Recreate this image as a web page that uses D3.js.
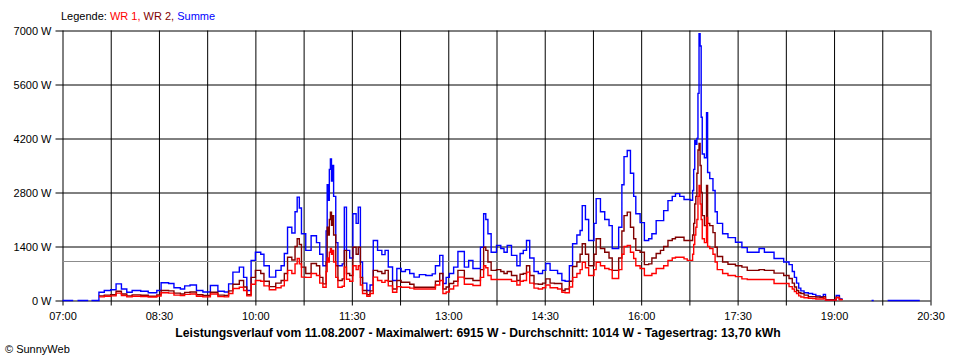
<!DOCTYPE html>
<html><head><meta charset="utf-8">
<script src="https://cdn.jsdelivr.net/npm/d3@7"></script>
<style>
body{margin:0;background:#fff;}
svg{display:block;font-family:"Liberation Sans",Arial,sans-serif;}
</style></head><body>
<svg id="c" width="960" height="360"></svg>
<script>
// ---- data ----
const times = ["07:00","07:10","07:11","07:14","07:24","07:25","07:27","07:33",
"07:34","07:39","07:45","07:50","07:55","08:00","08:05","08:13","08:20","08:28","08:32","08:39","08:44","08:50","08:54","08:59",
"09:05","09:11","09:18","09:25","09:31","09:35","09:39","09:45","09:49","09:52","09:56",
"10:00","10:05","10:08","10:13","10:19","10:24","10:27","10:30","10:34","10:37","10:39","10:41","10:43","10:47","10:52","10:57",
"11:00","11:03","11:06","11:07","11:08","11:09","11:10","11:11","11:12","11:13","11:15","11:17","11:21","11:23","11:25","11:28",
"11:31","11:34","11:36","11:38","11:40","11:44","11:47","11:50","11:54","11:58",
"12:01","12:04","12:08","12:12","12:16","12:20","12:24","12:28","12:33","12:39","12:45","12:48","12:52","12:55","12:58",
"13:01","13:05","13:09","13:13","13:15","13:19","13:23","13:27","13:30","13:33","13:35","13:37","13:40","13:45","13:49","13:52","13:55","13:59",
"14:04","14:07","14:10","14:13","14:16","14:20","14:24","14:28","14:31","14:35","14:39","14:42","14:46","14:49","14:53","14:56",
"15:00","15:03","15:05","15:08","15:11","15:14","15:16","15:18","15:22","15:26","15:30","15:33","15:36","15:39","15:42","15:44","15:47","15:50","15:53","15:55","15:59",
"16:03","16:07","16:10","16:14","16:18","16:21","16:25","16:29","16:32","16:36","16:40","16:43","16:46","16:48","16:49","16:50","16:51","16:52","16:53","16:54","16:55","16:56","16:57","16:59",
"17:01","17:02","17:04","17:07","17:09","17:11","17:16","17:21","17:28","17:34","17:39","17:50","17:55",
"18:04","18:13","18:18","18:21","18:23","18:25","18:27","18:29","18:32","18:36","18:40","18:43","18:47","18:50","18:52",
"19:02","19:05","19:08","19:09","19:35","19:37","19:38","19:50","20:20"];

const summe = [0,0,null,0,0,null,0,0,
215,260,280,430,300,215,260,240,200,260,460,440,330,300,380,400,
260,220,390,240,220,430,735,865,600,260,1040,
1250,1200,900,605,780,900,1220,1900,1750,2300,2680,2400,1730,1300,1680,1500,
1200,900,1800,3000,2600,3400,3670,3100,3500,2700,1500,900,950,2420,1300,1100,
2250,2000,2420,1000,450,260,400,1555,1300,1190,
1300,870,520,830,750,800,700,605,670,650,690,900,1170,440,600,
700,865,1270,1270,865,1040,830,830,1380,2250,2100,1730,1250,1430,1350,1250,1430,1170,
900,1220,1300,1555,1100,750,700,780,960,780,780,700,520,500,900,1470,
1700,1815,2460,2100,1555,1555,2000,2640,2300,2100,1940,1350,1350,1900,3000,3730,3890,3300,2700,2250,2020,
1555,1600,1730,2070,2070,2330,2590,2700,2770,2700,2620,2620,2600,2850,3400,4150,4050,4200,5370,6915,6600,4750,3800,3700,
4870,3320,3160,2850,2300,2000,1730,1630,1510,1370,1250,1350,1250,
1090,1000,930,750,600,450,320,250,200,180,160,120,100,160,20,
130,40,40,null,0,0,null,0,0];

const wr2 = [null,null,null,null,null,null,null,null,
120,140,150,240,170,120,145,135,110,145,260,250,190,170,210,220,
150,130,215,140,130,250,420,520,350,150,600,
780,700,500,360,450,520,700,1120,1050,1400,1600,1450,865,700,960,900,
600,430,1000,1900,1700,2100,2290,1950,2200,1700,900,520,560,1300,700,650,
1380,1200,1380,600,260,150,250,780,750,700,
780,500,300,520,475,475,420,345,345,345,345,500,700,300,350,
440,500,780,780,570,570,520,520,800,1380,1300,1000,780,800,750,700,750,650,
520,680,700,900,650,430,420,450,560,450,440,440,260,300,500,880,
1000,1200,1470,1200,900,900,1200,1600,1350,1250,1100,780,780,1100,1800,2200,2290,1900,1600,1300,1250,
930,950,1100,1220,1300,1400,1555,1600,1640,1640,1555,1555,1555,1700,2000,2500,2700,3300,3900,4070,3500,2800,2200,1940,
2980,2000,1940,1760,1380,1140,1000,940,900,865,780,800,780,
710,650,570,450,350,260,200,180,140,100,100,90,80,100,15,
85,30,30,null,null,null,null,null,null];

const wr1 = [null,null,null,null,null,null,null,null,
95,110,120,190,130,95,110,105,90,115,200,190,140,130,160,170,
110,95,170,100,95,180,310,345,260,120,420,
520,500,380,280,330,380,520,780,700,950,1090,950,605,600,700,650,
450,345,750,1100,1000,1250,1350,1200,1300,1000,600,345,370,865,550,500,
900,800,900,400,180,110,180,605,520,470,
520,380,215,360,345,345,320,300,300,300,300,400,520,180,220,
300,380,605,605,420,420,390,390,600,900,850,650,545,545,545,545,545,500,
400,500,520,735,450,320,300,330,400,330,330,300,215,200,350,600,
700,800,990,850,650,650,800,990,900,830,800,570,570,800,1200,1400,1425,1250,1090,900,830,
650,650,700,830,830,900,1040,1100,1120,1120,1080,1040,1040,1200,1450,1700,1900,2100,2700,2980,2500,2100,1600,1500,
2150,1400,1350,1200,1000,800,700,650,620,560,545,545,545,
440,440,360,300,230,180,120,90,70,60,50,40,40,60,10,
70,20,20,null,null,null,null,null,null];

const yTicks = [0, 1400, 2800, 4200, 5600, 7000];
const xLabels = ["07:00","08:30","10:00","11:30","13:00","14:30","16:00","17:30","19:00","20:30"];
const xGridStep = 45; // minutes between vertical grid lines
const average = 1014;
const legendParts = [["Legende: ","#000"],["WR 1, ","#ff0000"],["WR 2, ","#800000"],["Summe","#0000ff"]];
const titleText = "Leistungsverlauf vom 11.08.2007 - Maximalwert: 6915 W - Durchschnitt: 1014 W - Tagesertrag: 13,70 kWh";
const footer = "\u00a9 SunnyWeb";

// ---- drawing ----
const toMin = s => +s.slice(0,2)*60 + +s.slice(3,5);
const svg = d3.select("#c");
const L = 62, R = 930, T = 30, B = 300;
const x = d3.scaleLinear().domain([toMin("07:00"), toMin("20:30")]).range([L, R]);
const y = d3.scaleLinear().domain([0, 7000]).range([B, T]);

const g = svg.append("g").attr("transform","translate(0.5,0.5)");

// horizontal grid + y axis
const yAxis = d3.axisLeft(y).tickValues(yTicks).tickSizeInner(-(R-L)).tickSizeOuter(0)
  .tickFormat(d => d + " W");
const ya = g.append("g").attr("transform",`translate(${L},0)`).call(yAxis);
ya.select(".domain").remove();
ya.selectAll(".tick line").attr("x1",-7).attr("x2",R-L).attr("stroke","#000");
ya.selectAll(".tick text").attr("x",-11).attr("dy","0.35em").attr("font-size",11)
  .attr("font-family","Liberation Sans, Arial, sans-serif").attr("fill","#000");

// vertical grid + x axis
const xTickVals = d3.range(toMin("07:00"), toMin("20:30")+1, xGridStep);
const xAxis = d3.axisBottom(x).tickValues(xTickVals).tickSizeOuter(0)
  .tickFormat(d => { const s = String(Math.floor(d/60)).padStart(2,"0")+":"+String(d%60).padStart(2,"0"); return xLabels.includes(s) ? s : ""; });
const xa = g.append("g").attr("transform",`translate(0,${B})`).call(xAxis);
xa.select(".domain").remove();
xa.selectAll(".tick line").attr("y1",-(B-T)).attr("y2",5).attr("stroke","#000");
xa.selectAll(".tick text").attr("y",16).attr("dy","0.35em").attr("font-size",11)
  .attr("font-family","Liberation Sans, Arial, sans-serif").attr("fill","#000");

// average line
g.append("line").attr("x1",L).attr("x2",R).attr("y1",Math.round(y(average))).attr("y2",Math.round(y(average)))
  .attr("stroke","#8c8c8c").attr("stroke-width",1);

// series
const series = [[summe,"#0000ff"],[wr2,"#800000"],[wr1,"#ff0000"]];
const line = d3.line().defined(d => d.v !== null).x(d => x(toMin(d.t))).y(d => y(d.v)).curve(d3.curveStepAfter);
series.forEach(([vals,col]) => {
  const data = times.map((t,i) => ({t, v: vals[i]}));
  g.append("path").datum(data).attr("d",line).attr("fill","none").attr("stroke",col)
   .attr("stroke-width",1.4).attr("stroke-linejoin","miter");
});

// legend
const lg = svg.append("text").attr("x",61).attr("y",20).attr("font-size",11);
legendParts.forEach(([t,c]) => lg.append("tspan").attr("fill",c).text(t));

// title
svg.append("text").attr("x",478).attr("y",337).attr("text-anchor","middle")
  .attr("font-size",12.2).attr("font-weight","bold").text(titleText);

// footer
svg.append("text").attr("x",5).attr("y",353).attr("font-size",11).text(footer);
</script>
</body></html>
